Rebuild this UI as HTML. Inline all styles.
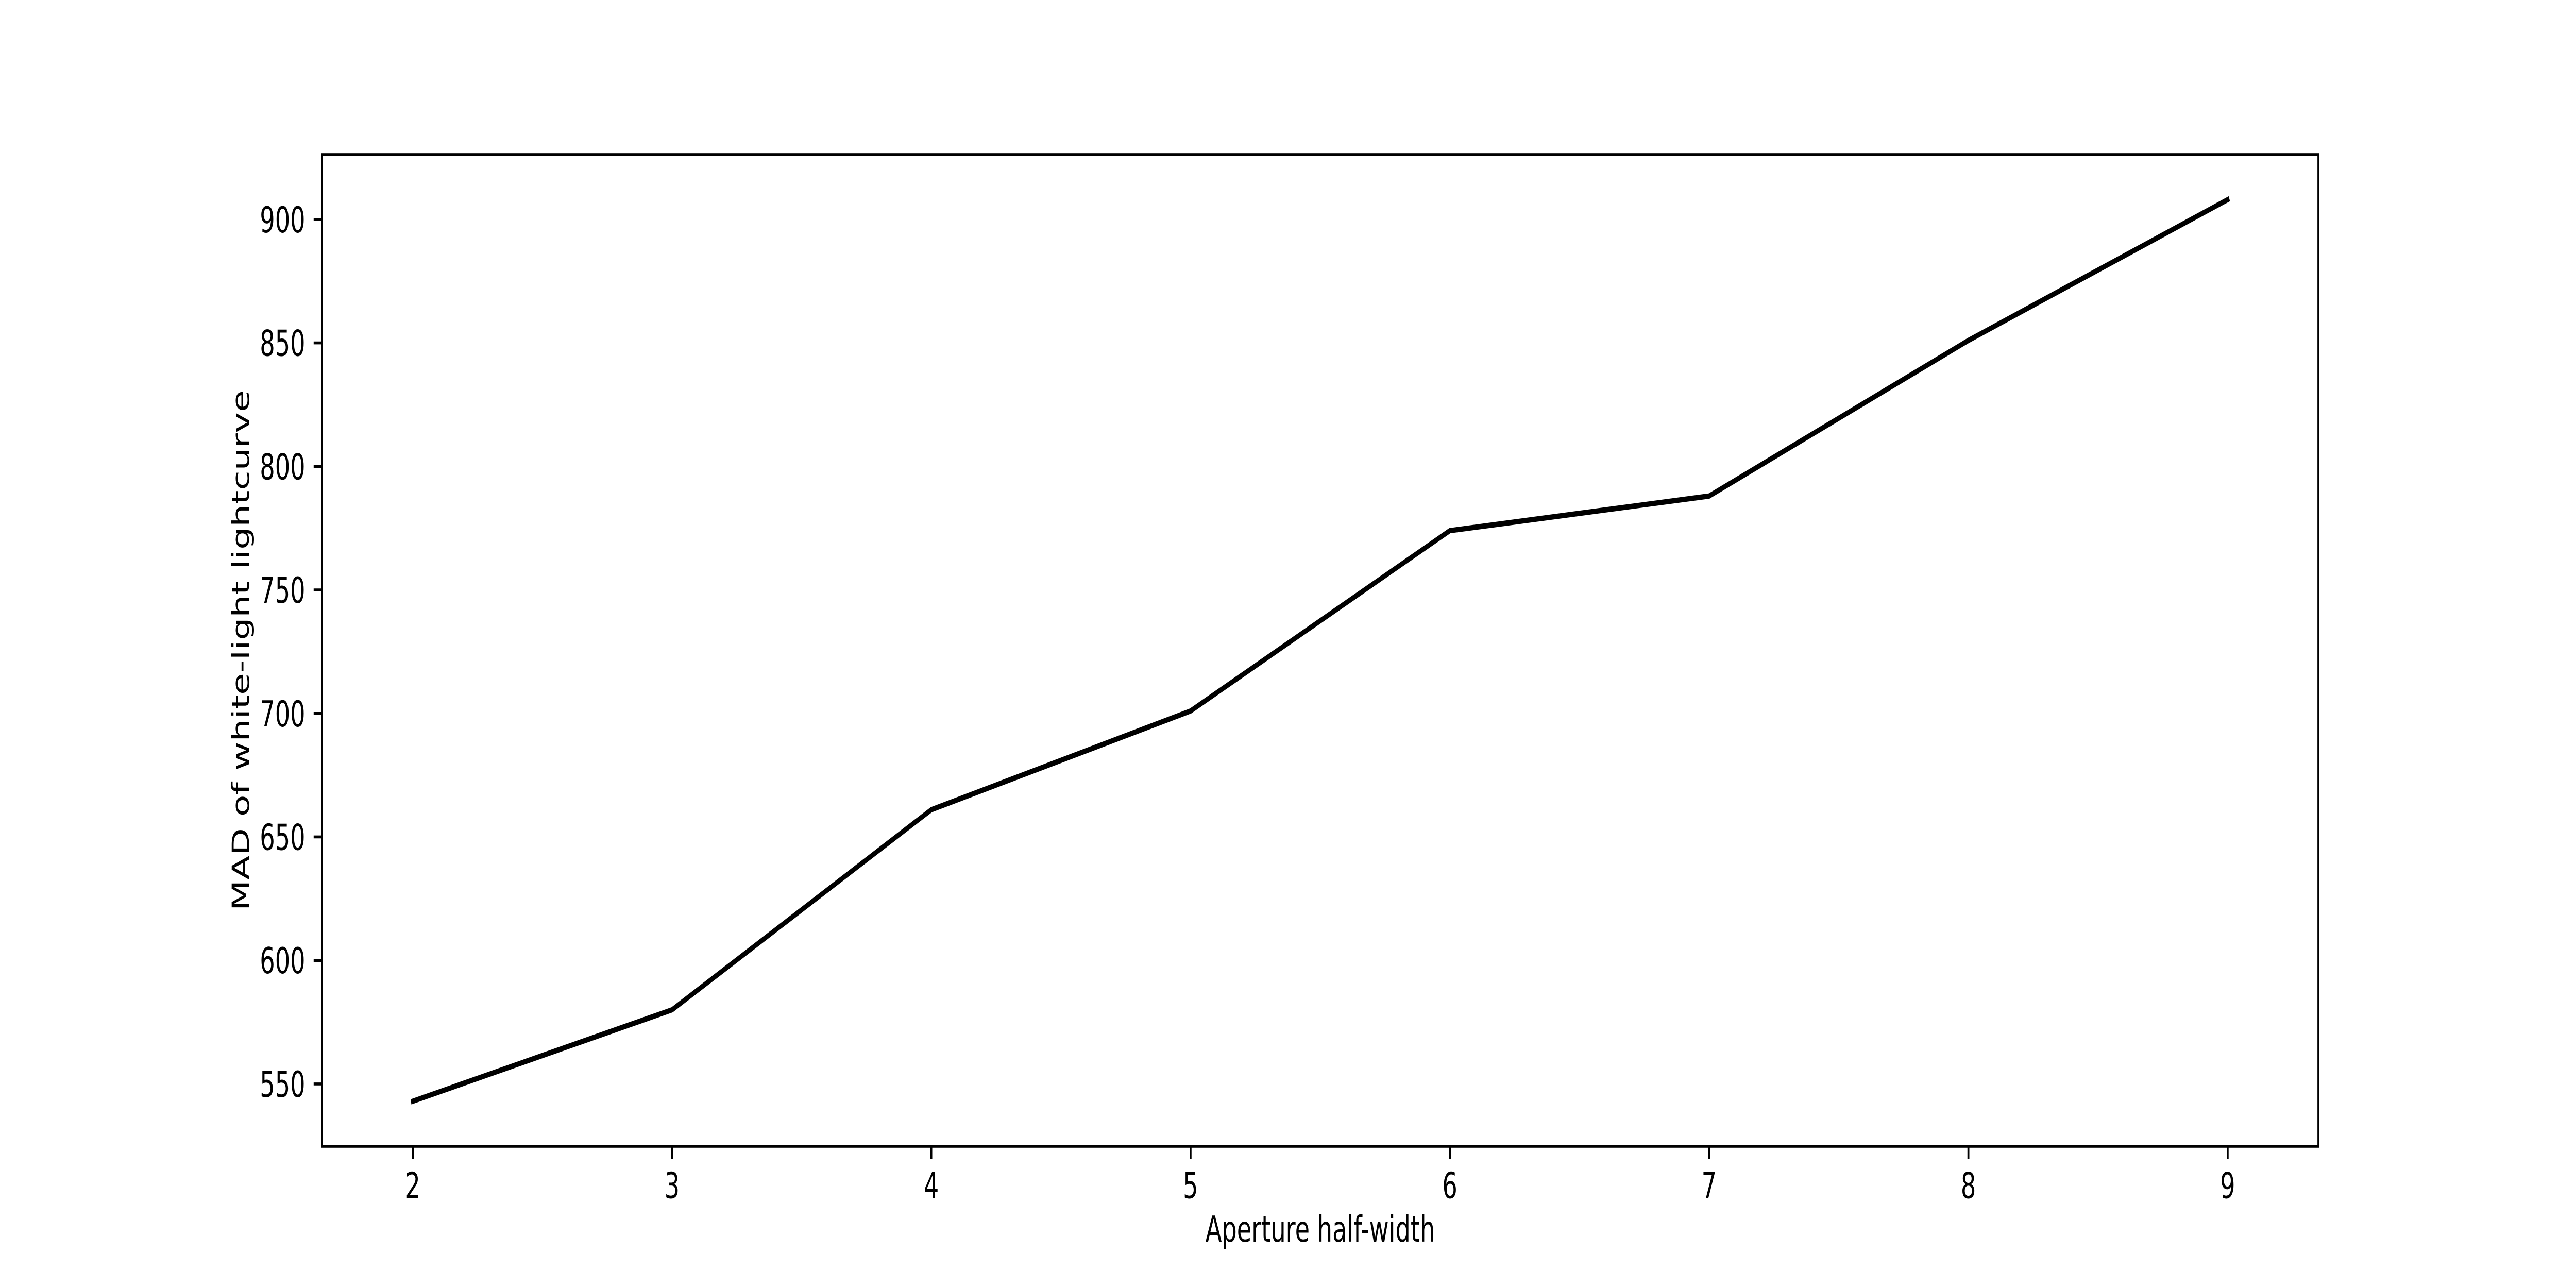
<!DOCTYPE html>
<html>
<head>
<meta charset="utf-8">
<style>
  html, body { margin: 0; padding: 0; background: #fff; width: 100%; height: 100%; overflow: hidden; }
  svg { display: block; position: fixed; left: 0; top: 0; width: 100vw; height: 100vh; }
  text { font-family: "DejaVu Sans", "Liberation Sans", sans-serif; fill: #000; }
</style>
</head>
<body>
<svg id="chart" viewBox="0 0 7500 2500" preserveAspectRatio="none" xmlns="http://www.w3.org/2000/svg">
  <rect x="0" y="0" width="7500" height="2500" fill="#fff"/>
  <g id="plot"></g>
</svg>
<script>
const apertures = [2, 3, 4, 5, 6, 7, 8, 9];
const madValues = [543, 580, 661, 701, 774, 788, 851, 908];
const xTickLabels = ["2", "3", "4", "5", "6", "7", "8", "9"];
const yTickLabels = ["550", "600", "650", "700", "750", "800", "850", "900"];

const L = 937.5, R = 6750, T = 300, B = 2225;
const NS = "http://www.w3.org/2000/svg";
const g = document.getElementById('plot');

const xMin0 = Math.min(...apertures), xMax0 = Math.max(...apertures);
const yMin0 = Math.min(...madValues), yMax0 = Math.max(...madValues);
const xPad = (xMax0 - xMin0) * 0.05, yPad = (yMax0 - yMin0) * 0.05;
const xLo = xMin0 - xPad, xHi = xMax0 + xPad;
const yLo = yMin0 - yPad, yHi = yMax0 + yPad;
function xScale(v) { return L + (v - xLo) / (xHi - xLo) * (R - L); }
function yScale(v) { return B - (v - yLo) / (yHi - yLo) * (B - T); }

function mk(tag, attrs) {
  const e = document.createElementNS(NS, tag);
  for (const k in attrs) e.setAttribute(k, attrs[k]);
  return e;
}

xTickLabels.forEach((lab) => {
  const x = xScale(parseFloat(lab));
  const t = mk('line', {x1: x, x2: x, y1: B, y2: B + 24.3, stroke: '#000', 'stroke-width': 5.6});
  
  
  g.appendChild(t);
  const tx = mk('text', {x: x, y: B + 48.6 + 52, 'font-size': 69.4, 'text-anchor': 'middle'});
  tx.textContent = lab;
  
  
  g.appendChild(tx);
});

yTickLabels.forEach((lab) => {
  const y = yScale(parseFloat(lab));
  const t = mk('line', {x1: L - 24.3, x2: L, y1: y, y2: y, stroke: '#000', 'stroke-width': 5.6});
  
  
  g.appendChild(t);
  const tx = mk('text', {x: L - 48.6, y: y + 25, 'font-size': 69.4, 'text-anchor': 'end'});
  tx.textContent = lab;
  
  
  g.appendChild(tx);
});

const pts = apertures.map((a, i) => xScale(a).toFixed(1) + ',' + yScale(madValues[i]).toFixed(1)).join(' ');
const line = mk('polyline', {points: pts, fill: 'none', stroke: '#000', 'stroke-width': 10.4, 'stroke-linejoin': 'round', 'stroke-linecap': 'square'});


g.appendChild(line);

const frame = mk('rect', {x: L, y: T, width: R - L, height: B - T, fill: 'none', stroke: '#000', 'stroke-width': 5.6});


g.appendChild(frame);

const xl = mk('text', {x: (L + R) / 2, y: 2410, 'font-size': 69.4, 'text-anchor': 'middle'});
xl.textContent = 'Aperture half-width';


g.appendChild(xl);

const yl = mk('text', {x: 0, y: 0, 'font-size': 69.4, 'text-anchor': 'middle', transform: 'translate(725,' + ((T + B) / 2) + ') rotate(-90)'});
yl.textContent = 'MAD of white-light lightcurve';


g.appendChild(yl);
</script>
</body>
</html>
